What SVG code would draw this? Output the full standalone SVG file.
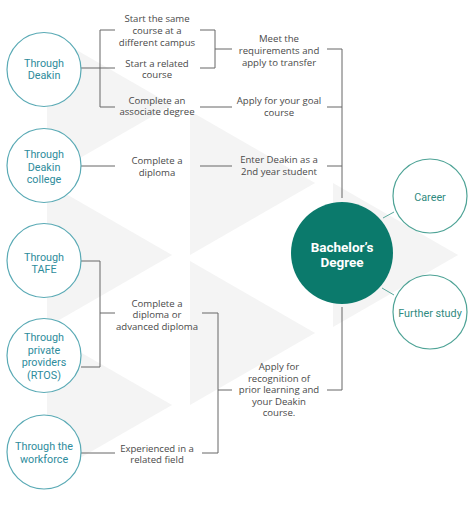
<svg xmlns="http://www.w3.org/2000/svg" width="474" height="510" viewBox="0 0 474 510">
<style>
.bg{fill:#f4f4f4}
.b{font-family:"Open Sans","Noto Sans",sans-serif;font-size:9.6px;fill:#4a4a4a;text-anchor:middle}
.t{font-family:Roboto,"Noto Sans",sans-serif;font-weight:400;font-size:10.8px;fill:#2e8c9c;text-anchor:middle}
.tr{fill:#2f8a80}
.lc{fill:#fff;stroke:#5aaab5;stroke-width:1.2}
.rc{fill:#fff;stroke:#4ea396;stroke-width:1.2}
.main{fill:#0b7a6c}
.mt{font-family:Roboto,"Noto Sans",sans-serif;font-weight:700;font-size:13.5px;fill:#fff;text-anchor:middle}
.ln{fill:none;stroke:#666;stroke-width:1}
.gl{fill:none;stroke:#5aa89c;stroke-width:1}
</style>
<rect width="474" height="510" fill="#fff"/>
<g id="background">
<polygon class="bg" points="47,33 47,177 172,105"/>
<polygon class="bg" points="47,183 47,327 172,255"/>
<polygon class="bg" points="47,333 47,477 172,405"/>
<polygon class="bg" points="190,111 190,255 315,183"/>
<polygon class="bg" points="190,261 190,405 315,333"/>
<polygon class="bg" points="333,183 333,327 458,255"/>
</g>
<g id="connectors">
<path class="ln" d="M81,68 H115 M115,30 H100 V107 H115"/>
<path class="ln" d="M200,30 H215 V68 H200 M215,49 H232"/>
<path class="ln" d="M200,107 H232"/>
<path class="ln" d="M327,49 H342 V198 M327,107 H342 M327,166 H342"/>
<path class="ln" d="M81,166 H115 M200,166 H232"/>
<path class="ln" d="M81,261 H100 V367 H81 M100,313 H115"/>
<path class="ln" d="M202,313 H218 V453 H202 M218,390 H232"/>
<path class="ln" d="M81,453 H115"/>
<path class="ln" d="M342,307 V390 H327"/>
<path class="gl" d="M383,218 L394,212 M382,288 L394,295"/>
</g>
<g id="through-deakin">
<circle class="lc" cx="44" cy="69.5" r="37"/>
<text class="t" x="44" y="67">Through</text>
<text class="t" x="44" y="79">Deakin</text>
</g>
<g id="through-deakin-college">
<circle class="lc" cx="44" cy="165.5" r="37"/>
<text class="t" x="44" y="158">Through</text>
<text class="t" x="44" y="170.5">Deakin</text>
<text class="t" x="44" y="183">college</text>
</g>
<g id="through-tafe">
<circle class="lc" cx="44" cy="260.5" r="37"/>
<text class="t" x="44" y="260.5">Through</text>
<text class="t" x="44" y="273">TAFE</text>
</g>
<g id="through-private">
<circle class="lc" cx="44" cy="355.5" r="37"/>
<text class="t" x="44" y="341">Through</text>
<text class="t" x="44" y="353.5">private</text>
<text class="t" x="44" y="366">providers</text>
<text class="t" x="44" y="378.5">(RTOS)</text>
</g>
<g id="through-workforce">
<circle class="lc" cx="44" cy="452" r="37"/>
<text class="t" x="44" y="450">Through the</text>
<text class="t" x="44" y="462.5">workforce</text>
</g>
<g id="step-same-course">
<text class="b" x="157" y="21.5">Start the same</text>
<text class="b" x="157" y="33.5">course at a</text>
<text class="b" x="157" y="45.5">different campus</text>
</g>
<g id="step-related-course">
<text class="b" x="157" y="66.5">Start a related</text>
<text class="b" x="157" y="78">course</text>
</g>
<g id="step-associate">
<text class="b" x="157" y="103.5">Complete an</text>
<text class="b" x="157" y="115">associate degree</text>
</g>
<g id="step-diploma">
<text class="b" x="157" y="163.5">Complete a</text>
<text class="b" x="157" y="175.5">diploma</text>
</g>
<g id="step-adv-diploma">
<text class="b" x="157" y="306.5">Complete a</text>
<text class="b" x="157" y="318">diploma or</text>
<text class="b" x="157" y="329.5">advanced diploma</text>
</g>
<g id="step-experienced">
<text class="b" x="157" y="451.5">Experienced in a</text>
<text class="b" x="157" y="463">related field</text>
</g>
<g id="step-transfer">
<text class="b" x="279" y="41.5">Meet the</text>
<text class="b" x="279" y="53.5">requirements and</text>
<text class="b" x="279" y="65.5">apply to transfer</text>
</g>
<g id="step-goal">
<text class="b" x="279" y="104">Apply for your goal</text>
<text class="b" x="279" y="115.5">course</text>
</g>
<g id="step-2nd-year">
<text class="b" x="279" y="162.5">Enter Deakin as a</text>
<text class="b" x="279" y="174.5">2nd year student</text>
</g>
<g id="step-rpl">
<text class="b" x="279" y="370">Apply for</text>
<text class="b" x="279" y="381.5">recognition of</text>
<text class="b" x="279" y="393">prior learning and</text>
<text class="b" x="279" y="404.5">your Deakin</text>
<text class="b" x="279" y="416">course.</text>
</g>
<g id="bachelors-degree">
<circle class="main" cx="342" cy="253" r="51"/>
<text class="mt" x="342" y="251.5">Bachelor’s</text>
<text class="mt" x="342" y="267">Degree</text>
</g>
<g id="career">
<circle class="rc" cx="430" cy="196" r="37"/>
<text class="t tr" x="430" y="200.5">Career</text>
</g>
<g id="further-study">
<circle class="rc" cx="430" cy="312" r="37"/>
<text class="t tr" x="430" y="316.5">Further study</text>
</g>
</svg>
